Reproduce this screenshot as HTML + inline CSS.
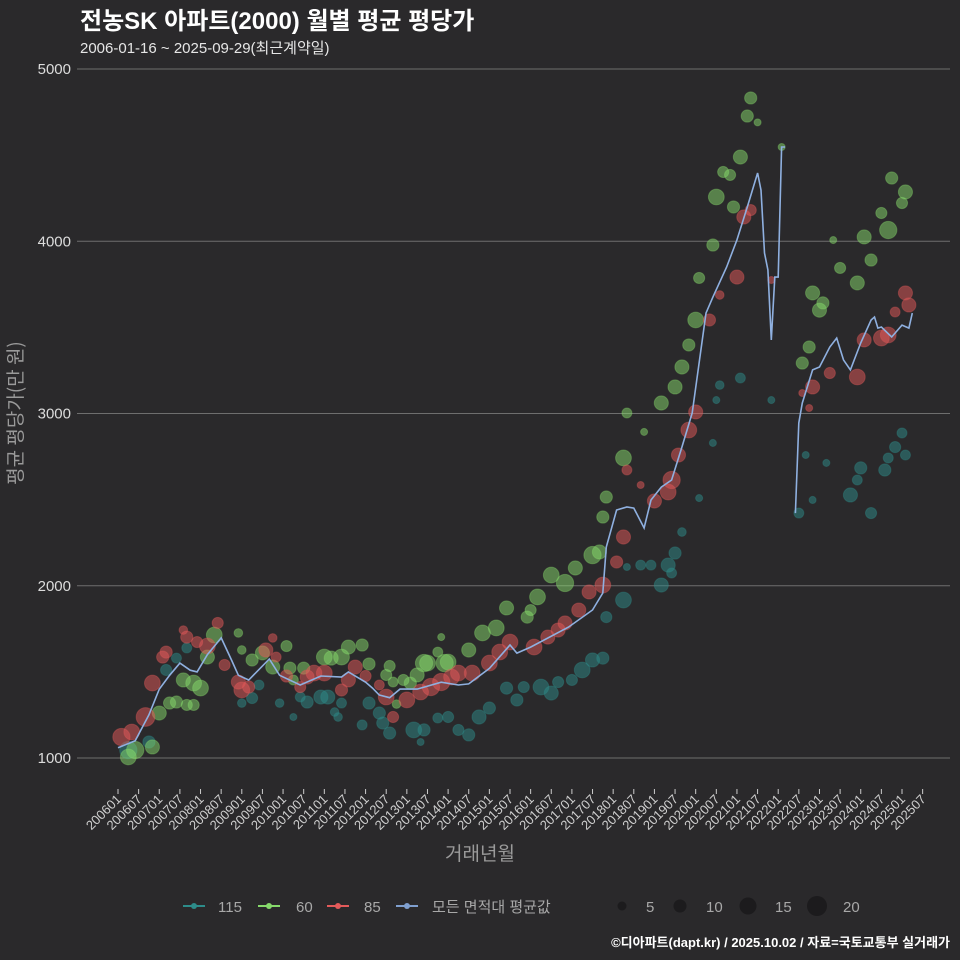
<!DOCTYPE html>
<html><head><meta charset="utf-8">
<style>
html,body{margin:0;padding:0;background:#2a292b;}
svg{display:block;font-family:"Liberation Sans","Noto Sans CJK KR",sans-serif;}
</style></head>
<body>
<svg id="chart" width="960" height="960" viewBox="0 0 960 960">
<rect x="0" y="0" width="960" height="960" fill="#2a292b"/>
<text x="80" y="29" fill="#ffffff" font-size="24" font-weight="bold">전농SK 아파트(2000) 월별 평균 평당가</text>
<text x="80" y="53" fill="#e6e6e6" font-size="15">2006-01-16 ~ 2025-09-29(최근계약일)</text>
<g id="grid"></g>
<g id="points"></g>
<g id="avgline"></g>
<g id="xaxis"></g>
<text x="480" y="860" fill="#9a9a9a" font-size="19" text-anchor="middle">거래년월</text>
<text transform="translate(22,413) rotate(-90)" fill="#9a9a9a" font-size="19" text-anchor="middle" font-family="'Noto Sans CJK KR',sans-serif">평균 평당가(만 원)</text>
<g id="legend">
  <g><line x1="183" y1="906" x2="205" y2="906" stroke="#2d8c8a" stroke-width="2"/><circle cx="194" cy="906" r="3" fill="#2d8c8a"/><text x="218" y="912" fill="#a8a8a8" font-size="15">115</text></g>
  <g><line x1="258" y1="906" x2="280" y2="906" stroke="#86d96b" stroke-width="2"/><circle cx="269" cy="906" r="3" fill="#86d96b"/><text x="296" y="912" fill="#a8a8a8" font-size="15">60</text></g>
  <g><line x1="327" y1="906" x2="349" y2="906" stroke="#e35a5a" stroke-width="2"/><circle cx="338" cy="906" r="3" fill="#e35a5a"/><text x="364" y="912" fill="#a8a8a8" font-size="15">85</text></g>
  <g><line x1="396" y1="906" x2="418" y2="906" stroke="#7f9fcf" stroke-width="2"/><circle cx="407" cy="906" r="3" fill="#7f9fcf"/><text x="432" y="912" fill="#a8a8a8" font-size="15">모든 면적대 평균값</text></g>
  <g><circle cx="622" cy="906" r="4.5" fill="#1c1b1d"/><text x="646" y="912" fill="#a8a8a8" font-size="15">5</text></g>
  <g><circle cx="680" cy="906" r="6.5" fill="#1c1b1d"/><text x="706" y="912" fill="#a8a8a8" font-size="15">10</text></g>
  <g><circle cx="748" cy="906" r="8.5" fill="#1c1b1d"/><text x="775" y="912" fill="#a8a8a8" font-size="15">15</text></g>
  <g><circle cx="817" cy="906" r="10" fill="#1c1b1d"/><text x="843" y="912" fill="#a8a8a8" font-size="15">20</text></g>
</g>
<text x="950" y="947" fill="#ffffff" font-size="13" font-weight="bold" text-anchor="end">©디아파트(dapt.kr) / 2025.10.02 / 자료=국토교통부 실거래가</text>
</svg>
<script>
const yTicks = [1000, 2000, 3000, 4000, 5000];
const xTickLabels = ["200601","200607","200701","200707","200801","200807","200901","200907","201001","201007","201101","201107","201201","201207","201301","201307","201401","201407","201501","201507","201601","201607","201701","201707","201801","201807","201901","201907","202001","202007","202101","202107","202201","202207","202301","202307","202401","202407","202501","202507"];

const avgMonths = ["200601","200606","200610","200701","200704","200707","200710","200712","200803","200807","200810","200812","200903","200909","200912","201006","201012","201106","201108","201201","201203","201205","201208","201211","201304","201311","201404","201407","201501","201507","201509","201601","201612","201707","201710","201711","201802","201805","201807","201810","201812","201903","201906","201909","201912","202004","202006","202010","202101","202104","202107","202108","202109","202110","202111","202112","202201","202202","202203","202204","202206","202207","202208","202211","202301","202304","202306","202308","202310","202401","202404","202405","202406","202407","202410","202501","202503","202504"];
const avgValues = [1060,1100,1250,1400,1480,1551,1510,1500,1600,1697,1569,1480,1453,1575,1480,1424,1476,1470,1500,1440,1406,1366,1350,1400,1400,1440,1424,1430,1520,1656,1609,1644,1760,1859,1958,2225,2440,2457,2451,2335,2498,2573,2614,2805,3003,3583,3676,3850,4007,4199,4396,4297,3932,3833,3427,3792,3792,4547,4547,null,2422,2945,3061,3253,3270,3386,3438,3311,3253,3409,3543,3560,3496,3502,3444,3513,3496,3583];

const s60Months = ["200604","200606","200611","200701","200704","200706","200708","200711","200801","200711","200709","200803","200805","200812","200901","200904","200907","201002","200910","201003","201004","201007","201101","201103","201106","201108","201112","201202","201208","201207","201209","201212","201302","201307","201310","201401","201311","201210","201304","201306","201312","201407","201411","201503","201506","201512","201601","201603","201607","201611","201702","201707","201709","201710","201711","201804","201805","201810","201903","201907","201909","201911","202001","202002","202006","202007","202009","202011","202012","202102","202104","202105","202107","202202","202208","202210","202301","202211","202302","202305","202307","202312","202402","202404","202407","202409","202410","202501","202502"];
const s60Values = [1006,1046,1064,1261,1319,1325,1453,1435,1406,1308,1308,1586,1714,1726,1627,1569,1610,1650,1528,1522,1453,1522,1586,1580,1586,1644,1656,1546,1534,1482,1441,1453,1435,1551,1615,1557,1702,1313,1482,1551,1551,1627,1726,1755,1871,1818,1859,1935,2062,2016,2103,2178,2196,2399,2515,2742,3003,2893,3061,3154,3270,3398,3543,3787,3978,4257,4402,4385,4199,4489,4727,4832,4690,4547,3293,3386,3600,3700,3642,4007,3845,3758,4025,3891,4164,4065,4367,4222,4286];
const s60Counts = [10,12,8,8,6,6,8,10,10,5,5,8,10,3,3,6,8,5,8,6,4,6,10,8,10,8,6,6,5,5,4,5,6,10,4,10,2,3,8,12,12,8,10,10,8,6,5,10,10,12,8,12,8,6,6,10,4,2,8,8,8,6,10,5,6,10,5,5,6,8,6,6,2,2,6,6,8,8,6,2,5,8,8,6,5,12,6,5,8];

const s85Months = ["200602","200605","200609","200611","200702","200703","200709","200708","200712","200803","200806","200808","200812","200901","200903","200908","200910","200911","201002","201006","201008","201010","201101","201106","201108","201110","201201","201205","201207","201209","201301","201305","201308","201311","201402","201404","201408","201501","201504","201507","201602","201606","201609","201611","201703","201706","201710","201802","201804","201805","201809","201901","201905","201906","201908","201911","202001","202005","202008","202101","202103","202105","202111","202208","202210","202211","202304","202312","202402","202407","202409","202411","202502","202503"];
const s85Values = [1122,1151,1238,1435,1586,1615,1702,1743,1673,1650,1784,1540,1441,1395,1412,1627,1697,1586,1476,1412,1470,1493,1493,1395,1453,1528,1476,1424,1354,1238,1337,1383,1412,1441,1470,1493,1493,1551,1615,1673,1644,1702,1743,1784,1859,1964,2004,2138,2283,2672,2585,2492,2544,2614,2759,2904,3009,3543,3688,3792,4141,4181,3775,3119,3032,3154,3235,3212,3427,3438,3456,3589,3700,3630];
const s85Counts = [12,10,14,10,6,6,6,3,5,10,5,5,8,10,6,8,3,4,6,5,8,10,10,6,8,8,5,4,10,5,10,10,12,12,10,10,10,10,10,10,10,8,8,8,8,8,10,6,8,4,2,8,10,12,8,10,8,6,3,8,8,5,2,2,2,8,5,10,8,10,10,4,8,8];

const s115Months = ["200604","200610","200703","200706","200709","200901","200904","200906","200912","201004","201006","201008","201012","201102","201104","201105","201106","201112","201202","201205","201206","201208","201303","201305","201306","201310","201401","201404","201407","201410","201501","201506","201509","201511","201604","201607","201609","201701","201704","201707","201710","201711","201804","201805","201809","201812","201903","201905","201906","201907","201909","202002","202006","202007","202008","202102","202111","202207","202209","202211","202303","202310","202312","202401","202404","202408","202409","202411","202501","202502"];
const s115Values = [1046,1093,1511,1580,1639,1319,1348,1424,1319,1238,1354,1325,1354,1354,1267,1238,1319,1192,1319,1261,1203,1145,1163,1093,1163,1232,1238,1163,1134,1238,1290,1406,1337,1412,1412,1377,1441,1453,1511,1569,1580,1818,1917,2109,2120,2120,2004,2120,2074,2190,2312,2509,2829,3078,3165,3206,3078,2422,2759,2498,2713,2527,2614,2684,2422,2672,2742,2805,2887,2759];
const s115Counts = [12,6,5,4,4,3,5,4,3,2,4,6,8,8,3,3,4,4,6,6,6,6,10,2,6,4,5,5,6,8,6,6,6,5,10,8,5,5,10,8,6,5,10,2,4,4,8,8,4,6,3,2,2,2,3,4,2,4,2,2,2,8,4,6,5,6,4,5,4,4];

const NS = "http://www.w3.org/2000/svg";
const X0 = 118, X1 = 902, Y1000 = 758, Y5000 = 69;
function monthIndex(ym){ return (parseInt(ym.slice(0,4))-2006)*12 + parseInt(ym.slice(4,6))-1; }
function xScale(ym){ return X0 + monthIndex(ym)*(X1-X0)/228; }
function yScale(v){ return Y1000 - (v-1000)*(Y1000-Y5000)/4000; }
function rScale(c){ return 2.5*Math.sqrt(c); }

const grid = document.getElementById('grid');
yTicks.forEach(function(t){
  const y = yScale(t);
  const ln = document.createElementNS(NS,'line');
  ln.setAttribute('x1',77); ln.setAttribute('x2',950); ln.setAttribute('y1',y); ln.setAttribute('y2',y);
  ln.setAttribute('stroke','#6e6e6e'); ln.setAttribute('stroke-width','1');
  
  
  grid.appendChild(ln);
  const tx = document.createElementNS(NS,'text');
  tx.setAttribute('x',71); tx.setAttribute('y',y+5); tx.setAttribute('text-anchor','end');
  tx.setAttribute('fill','#dcdcdc'); tx.setAttribute('font-size','15');
  tx.textContent = t;
  
  
  grid.appendChild(tx);
});

const xaxis = document.getElementById('xaxis');
xTickLabels.forEach(function(lbl){
  const x = xScale(lbl);
  const tk = document.createElementNS(NS,'line');
  tk.setAttribute('x1',x); tk.setAttribute('x2',x); tk.setAttribute('y1',789); tk.setAttribute('y2',794);
  tk.setAttribute('stroke','#cccccc'); tk.setAttribute('stroke-width','1');
  
  
  xaxis.appendChild(tk);
  const tx = document.createElementNS(NS,'text');
  tx.setAttribute('transform','translate('+(x+4)+',800) rotate(-45)');
  tx.setAttribute('text-anchor','end'); tx.setAttribute('fill','#cfcfcf'); tx.setAttribute('font-size','13');
  tx.textContent = lbl;
  
  
  xaxis.appendChild(tx);
});

const pts = document.getElementById('points');
function drawSeries(months, values, counts, color, name){
  for (let i=0;i<months.length;i++){
    const c = document.createElementNS(NS,'circle');
    c.setAttribute('cx', xScale(months[i]));
    c.setAttribute('cy', yScale(values[i]));
    c.setAttribute('r', rScale(counts[i]));
    c.setAttribute('fill', color);
    c.setAttribute('fill-opacity', '0.5');
    c.setAttribute('stroke', color);
    c.setAttribute('stroke-opacity', '0.35');
    
    
    pts.appendChild(c);
  }
}
drawSeries(s115Months, s115Values, s115Counts, '#2d8c8a', 'point-115');
drawSeries(s60Months, s60Values, s60Counts, '#86d96b', 'point-60');
drawSeries(s85Months, s85Values, s85Counts, '#e35a5a', 'point-85');

let d = '', pen = false;
for (let i=0;i<avgMonths.length;i++){
  if (avgValues[i] === null){ pen = false; continue; }
  d += (pen ? 'L' : 'M') + xScale(avgMonths[i]).toFixed(1) + ',' + yScale(avgValues[i]).toFixed(1);
  pen = true;
}
const path = document.createElementNS(NS,'path');
path.setAttribute('d', d);
path.setAttribute('fill','none'); path.setAttribute('stroke','#8fb0e0'); path.setAttribute('stroke-width','1.6');


document.getElementById('avgline').appendChild(path);
</script>
</body></html>
